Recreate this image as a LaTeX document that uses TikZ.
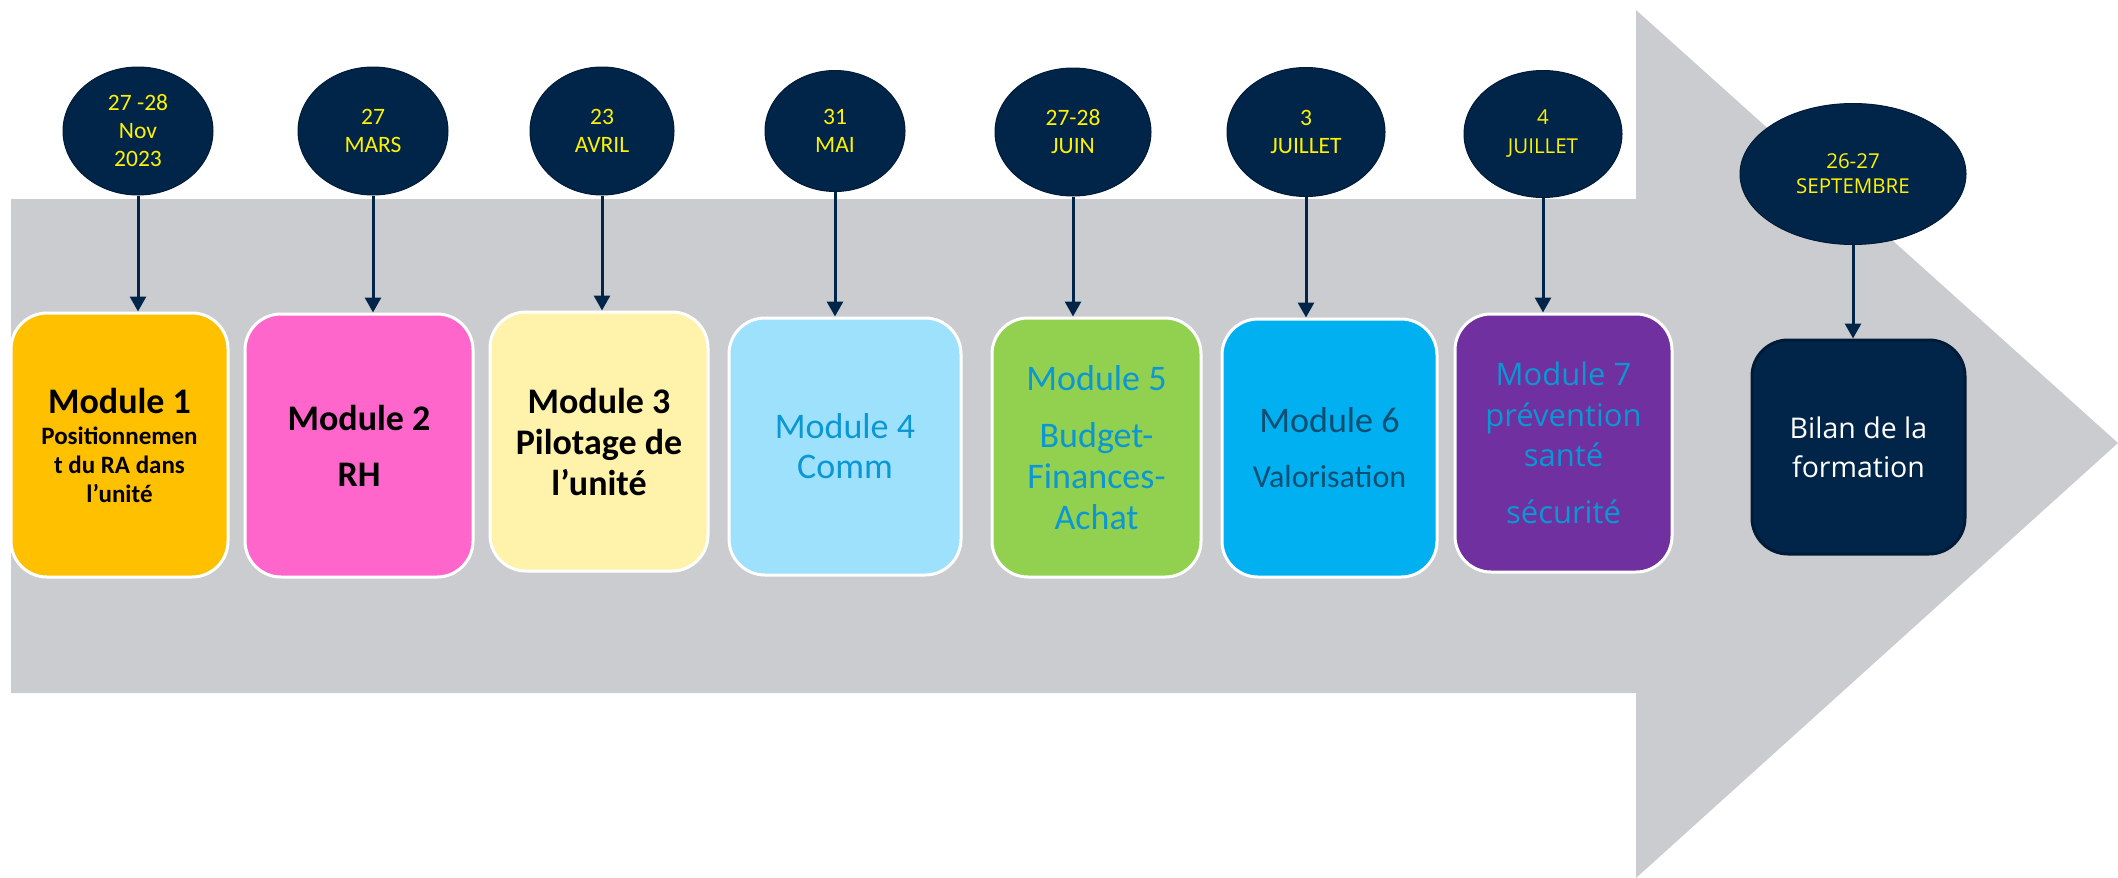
\documentclass[tikz,border=0pt]{standalone}
\usepackage{fontspec}
\setmainfont{Carlito}
\newfontfamily\segoe{Open Sans}
\usepackage{tikz}
\usetikzlibrary{positioning,arrows.meta,shapes.geometric}

\definecolor{navy}{HTML}{012549}
\definecolor{navyedge}{HTML}{001A38}
\definecolor{band}{HTML}{CBCCD0}
\definecolor{gold}{HTML}{FFC000}
\definecolor{pink}{HTML}{FF66CC}
\definecolor{cream}{HTML}{FFF2AA}
\definecolor{sky}{HTML}{9DE1FD}
\definecolor{lime}{HTML}{92D050}
\definecolor{cyan}{HTML}{00B0F0}
\definecolor{plum}{HTML}{7030A0}
\definecolor{textblue}{HTML}{0A97D3}
\definecolor{textteal}{HTML}{0D4F73}

\begin{document}
\begin{tikzpicture}[x=1pt, y=-1pt,
    date/.style={ellipse, draw=navyedge, line width=1pt, fill=navy, text=yellow,
        inner sep=0pt, align=center, font=\fontsize{23.5}{28}\selectfont},
    module/.style={draw=white, line width=3pt, rounded corners=36pt,
        inner sep=0pt, align=center},
    link/.style={draw=navy, line width=3pt, -{Triangle[width=16pt,length=15pt]}}]

    \useasboundingbox (0,0) rectangle (2118,878);
    % big grey arrow
    \fill[band] (11,199) -- (1636,199) -- (1636,10) -- (2118,443)
        -- (1636,878) -- (1636,693) -- (11,693) -- cycle;

    \node[date, minimum width=150pt, minimum height=128pt] (d1) at (138,131) {27 -28\\Nov\\2023};
    \node[date, minimum width=150pt, minimum height=128pt] (d2) at (373,131) {27\\MARS};
    \node[date, minimum width=144pt, minimum height=128pt] (d3) at (602,131) {23\\AVRIL};
    \node[date, minimum width=140pt, minimum height=121pt] (d4) at (835,131) {31\\MAI};
    \node[date, minimum width=156pt, minimum height=128pt] (d5) at (1073,132) {27-28\\JUIN};
    \node[date, minimum width=158pt, minimum height=129pt] (d6) at (1306,132) {3\\JUILLET};
    \node[date, minimum width=158pt, minimum height=127pt, font=\segoe\fontsize{20.5}{29}\selectfont] (d7) at (1543,134) {4\\JUILLET};
    \node[date, minimum width=226pt, minimum height=141pt, font=\segoe\fontsize{20.5}{25}\selectfont] (d8) at (1853,174) {26-27\\SEPTEMBRE};

    \node[module, fill=gold, minimum width=217pt, minimum height=264pt,
        font=\bfseries\fontsize{25}{29}\selectfont] (m1) at (119.5,445)
        {{\fontsize{36}{41}\selectfont Module 1}\\[2pt]Positionnemen\\t du RA dans\\l’unité};
    \node[module, fill=pink, minimum width=228pt, minimum height=263pt,
        font=\bfseries\fontsize{36}{41}\selectfont] (m2) at (359,445.5) {Module 2\\[15pt]RH};
    \node[module, fill=cream, minimum width=218pt, minimum height=259pt,
        font=\bfseries\fontsize{36}{41}\selectfont] (m3) at (599,441.5) {Module 3\\Pilotage de\\l’unité};
    \node[module, fill=sky, text=textblue, minimum width=232pt, minimum height=257pt,
        font=\fontsize{36}{40}\selectfont] (m4) at (845,446.5) {Module 4\\Comm};
    \node[module, fill=lime, text=textblue, minimum width=209pt, minimum height=259pt,
        font=\fontsize{36}{41}\selectfont] (m5) at (1096.5,447.5) {Module 5\\[16pt]Budget-\\Finances-\\Achat};
    \node[module, fill=cyan, text=textteal, minimum width=215pt, minimum height=258pt,
        font=\fontsize{32}{40}\selectfont] (m6) at (1329.5,448)
        {{\fontsize{36}{40}\selectfont Module 6}\\[15pt]Valorisation};
    \node[module, fill=plum, text=textblue, minimum width=217pt, minimum height=258pt,
        font=\segoe\fontsize{31}{40.5}\selectfont] (m7) at (1563.5,443)
        {Module 7\\prévention\\santé\\[16pt]sécurité};
    \node[module, draw=navyedge, fill=navy, text=white, minimum width=213pt, minimum height=214pt,
        font=\segoe\fontsize{28.5}{39}\selectfont] (m8) at (1858.5,447) {Bilan de la\\formation};

    \draw[link] (d1.south) -- (d1.south |- m1.north);
    \draw[link] (d2.south) -- (d2.south |- m2.north);
    \draw[link] (d3.south) -- (d3.south |- m3.north);
    \draw[link] (d4.south) -- (d4.south |- m4.north);
    \draw[link] (d5.south) -- (d5.south |- m5.north);
    \draw[link] (d6.south) -- (d6.south |- m6.north);
    \draw[link] (d7.south) -- (d7.south |- m7.north);
    \draw[link] (d8.south) -- (d8.south |- m8.north);
\end{tikzpicture}
\end{document}
